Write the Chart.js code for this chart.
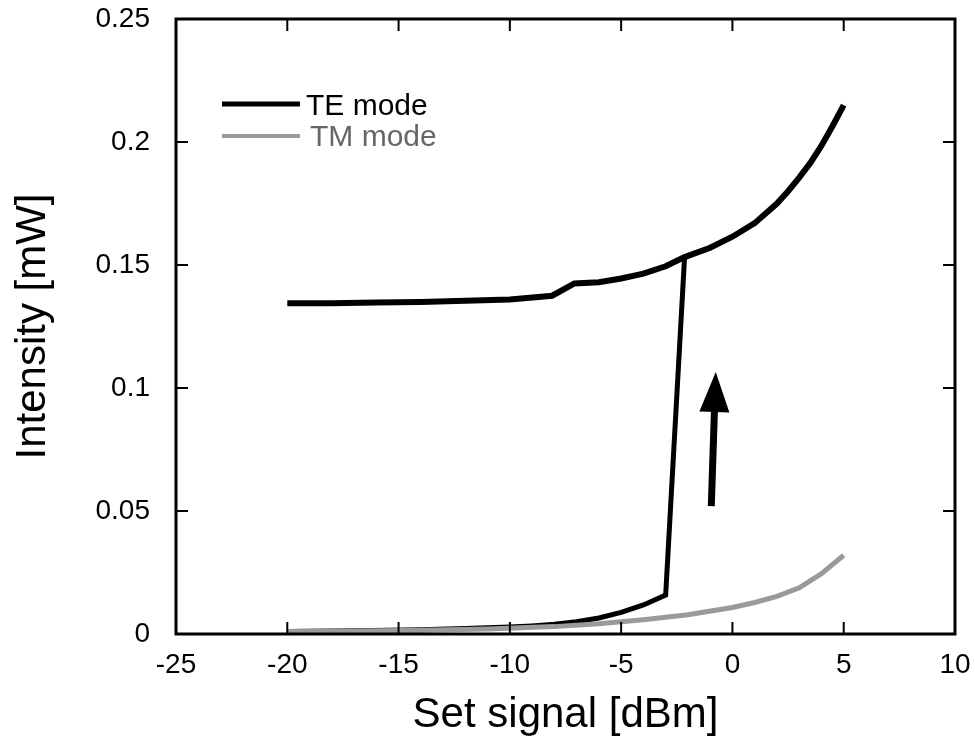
<!DOCTYPE html>
<html>
<head>
<meta charset="utf-8">
<script src="https://cdn.jsdelivr.net/npm/chart.js@4"></script>
<style>
  body { margin: 0; background: #fff; }
  canvas { display: block; }
</style>
</head>
<body>
<canvas id="myChart" width="975" height="741"></canvas>
<script>
// TE mode, upper branch (high state)
var teUpperX = [-20, -18, -16, -14, -12, -10, -8.1, -7.1, -6, -5, -4, -3, -2.15, -1, 0, 1, 2, 2.5, 3, 3.5, 4, 4.5, 5];
var teUpperY = [0.1345, 0.1345, 0.1348, 0.135, 0.1355, 0.136, 0.1375, 0.1425, 0.143, 0.1445, 0.1465, 0.1495, 0.1532, 0.157, 0.1615, 0.167, 0.175, 0.18, 0.1855, 0.1915, 0.1985, 0.2065, 0.215];
// TE mode, lower branch + jump
var teLowerX = [-20, -17, -14, -12, -10, -9, -8, -7, -6, -5, -4, -3, -2.15];
var teLowerY = [0.001, 0.0013, 0.0017, 0.0022, 0.0028, 0.0033, 0.004, 0.005, 0.0065, 0.0088, 0.0118, 0.0158, 0.1532];
// TM mode
var tmX = [-20, -17, -14, -11, -8, -6, -4, -2, 0, 1, 2, 3, 4, 5];
var tmY = [0.001, 0.0012, 0.0015, 0.002, 0.003, 0.0042, 0.0058, 0.0078, 0.0108, 0.0128, 0.0153, 0.0188, 0.0245, 0.032];

var xTicks = [-25, -20, -15, -10, -5, 0, 5, 10];
var yTicks = [0, 0.05, 0.1, 0.15, 0.2, 0.25];
var seriesNames = ['TE mode', 'TM mode'];
// arrow (start, end) in data units
var arrowX = [-0.95, -0.75];
var arrowY = [0.052, 0.1065];

function pts(xs, ys) {
    var out = [];
    for (var i = 0; i < xs.length; i++) out.push({ x: xs[i], y: ys[i] });
    return out;
}

// frame, inward ticks, legend and the arrow
var extras = {
    id: 'extras',
    afterDatasetsDraw: function (chart) {
        var c = chart.ctx, a = chart.chartArea;
        var xs = chart.scales.x, ys = chart.scales.y;
        c.save();
        c.strokeStyle = '#000';
        c.lineWidth = 2;
        var tl = 12;
        xTicks.forEach(function (v) {
            var px = xs.getPixelForValue(v);
            c.beginPath();
            c.moveTo(px, a.bottom); c.lineTo(px, a.bottom - tl);
            c.moveTo(px, a.top); c.lineTo(px, a.top + tl);
            c.stroke();
        });
        yTicks.forEach(function (v) {
            var py = ys.getPixelForValue(v);
            c.beginPath();
            c.moveTo(a.left, py); c.lineTo(a.left + tl, py);
            c.moveTo(a.right, py); c.lineTo(a.right - tl, py);
            c.stroke();
        });
        c.lineWidth = 3;
        c.strokeRect(a.left, a.top, a.right - a.left, a.bottom - a.top);

        // legend
        c.lineWidth = 5;
        c.strokeStyle = '#000';
        c.beginPath(); c.moveTo(222, 104); c.lineTo(300, 104); c.stroke();
        c.strokeStyle = '#9a9a9a';
        c.lineWidth = 4;
        c.beginPath(); c.moveTo(222, 136); c.lineTo(300, 136); c.stroke();
        c.font = '30px "Liberation Sans", Arial, sans-serif';
        c.textBaseline = 'middle';
        c.fillStyle = '#000';
        c.fillText(seriesNames[0], 306, 107);
        c.fillStyle = '#666';
        c.fillText(seriesNames[1], 310, 138);

        // arrow
        var x0 = xs.getPixelForValue(arrowX[0]), y0 = ys.getPixelForValue(arrowY[0]);
        var x1 = xs.getPixelForValue(arrowX[1]), y1 = ys.getPixelForValue(arrowY[1]);
        var ang = Math.atan2(y1 - y0, x1 - x0);
        var hl = 40, hw = 15;
        var bx = x1 - hl * Math.cos(ang), by = y1 - hl * Math.sin(ang);
        c.strokeStyle = '#000';
        c.fillStyle = '#000';
        c.lineWidth = 7;
        c.beginPath(); c.moveTo(x0, y0); c.lineTo(bx, by); c.stroke();
        c.beginPath();
        c.moveTo(x1, y1);
        c.lineTo(bx + hw * Math.sin(ang), by - hw * Math.cos(ang));
        c.lineTo(bx - hw * Math.sin(ang), by + hw * Math.cos(ang));
        c.closePath();
        c.fill();
        c.restore();
    }
};

var ctx = document.getElementById('myChart').getContext('2d');
var myChart = new Chart(ctx, {
    type: 'scatter',
    data: {
        datasets: [{
            label: seriesNames[1],
            data: pts(tmX, tmY),
            showLine: true,
            borderColor: '#9a9a9a',
            borderWidth: 5,
            pointRadius: 0
        }, {
            label: seriesNames[0],
            data: pts(teLowerX, teLowerY),
            showLine: true,
            borderColor: '#000',
            borderWidth: 5,
            pointRadius: 0
        }, {
            label: seriesNames[0],
            data: pts(teUpperX, teUpperY),
            showLine: true,
            borderColor: '#000',
            borderWidth: 6,
            pointRadius: 0
        }]
    },
    options: {
        responsive: false,
        animation: false,
        layout: { padding: { top: 19, right: 20, left: 0, bottom: 0 } },
        plugins: { legend: { display: false }, tooltip: { enabled: false } },
        scales: {
            x: {
                type: 'linear',
                min: -25, max: 10,
                afterBuildTicks: function (s) { s.ticks = xTicks.map(function (v) { return { value: v }; }); },
                afterFit: function (s) { s.height = 107; s.paddingLeft = 0; s.paddingRight = 0; },
                grid: { display: false, drawTicks: false },
                border: { display: false },
                ticks: { color: '#000', padding: 14, maxRotation: 0, font: { family: '"Liberation Sans", Arial', size: 28 } },
                title: { display: true, text: 'Set signal [dBm]', color: '#000', padding: { top: 0, bottom: 0 }, font: { family: '"Liberation Sans", Arial', size: 42 } }
            },
            y: {
                min: 0, max: 0.25,
                afterBuildTicks: function (s) { s.ticks = yTicks.map(function (v) { return { value: v }; }); },
                afterFit: function (s) { s.width = 176; s.paddingTop = 0; s.paddingBottom = 0; },
                grid: { display: false, drawTicks: false },
                border: { display: false },
                ticks: { color: '#000', padding: 26, font: { family: '"Liberation Sans", Arial', size: 28 },
                    callback: function (v) { return String(+v.toFixed(2)); } },
                title: { display: true, text: 'Intensity [mW]', color: '#000', padding: { top: 8, bottom: 0 }, font: { family: '"Liberation Sans", Arial', size: 42 } }
            }
        }
    },
    plugins: [extras]
});
</script>
</body>
</html>
